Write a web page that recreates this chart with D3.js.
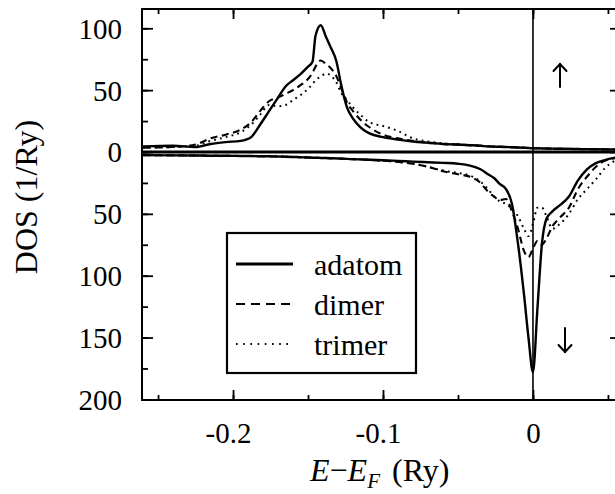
<!DOCTYPE html>
<html>
<head>
<meta charset="utf-8">
<script src="https://cdn.jsdelivr.net/npm/d3@7"></script>
<style>
  html, body { margin: 0; padding: 0; background: #fff; }
  svg { display: block; }
  text { font-family: "Liberation Serif", "Times New Roman", serif; fill: #000; }
</style>
</head>
<body>
<svg id="chart" width="615" height="494"></svg>
<script>
// Energy grid (Ry, relative to the Fermi level)
const energy = [-0.26, -0.24, -0.225, -0.215, -0.205, -0.195, -0.188, -0.182, -0.176, -0.17,
  -0.165, -0.16, -0.155, -0.15, -0.147, -0.145, -0.1415, -0.138, -0.135, -0.131,
  -0.128, -0.124, -0.12, -0.115, -0.109, -0.1, -0.09, -0.08, -0.07, -0.06,
  -0.05, -0.042, -0.035, -0.03, -0.026, -0.022, -0.018, -0.014, -0.01, -0.006,
  -0.003, 0, 0.003, 0.006, 0.009, 0.013, 0.018, 0.024, 0.03, 0.036,
  0.042, 0.048, 0.0547];

// Majority (spin up) DOS, 1/Ry
const adatomUp = [4.5, 5, 4, 6.5, 8, 9, 12, 22, 33, 44,
  53, 58, 63, 69, 73, 94, 102.5, 93, 85, 73,
  55, 36, 27, 20, 15, 12, 10, 8.5, 7.5, 6.5,
  6, 5.5, 5, 4.5, 4.3, 4.2, 4, 3.8, 3.6, 3.4,
  3.2, 3, 3, 2.9, 2.8, 2.7, 2.6, 2.5, 2.4, 2.3,
  2.2, 2.1, 2];
const dimerUp = [3.5, 4, 6, 11, 14, 18, 24, 33, 41, 44,
  47, 50, 54, 59, 64, 69, 74, 71, 68, 61,
  52, 40, 33, 26, 20, 14, 11, 9, 7.5, 6.5,
  6, 5.5, 5, 4.6, 4.4, 4.2, 4, 3.8, 3.6, 3.4,
  3.2, 3, 3, 2.9, 2.8, 2.7, 2.6, 2.5, 2.4, 2.3,
  2.2, 2.1, 2];
const trimerUp = [3.5, 4, 5, 9, 12, 16, 22, 30, 38, 37,
  38, 42, 46, 51, 55, 58, 61, 63.5, 62, 56,
  48, 42, 36, 30, 24, 21, 17, 11, 8.5, 7,
  6, 5.5, 5, 4.6, 4.4, 4.2, 4, 3.8, 3.6, 3.4,
  3.2, 3, 3, 2.9, 2.8, 2.7, 2.6, 2.5, 2.4, 2.3,
  2.2, 2.1, 2];

// Minority (spin down) DOS, 1/Ry, drawn downward
const adatomDown = [2.5, 2.7, 2.8, 3, 3, 3.2, 3.3, 3.4, 3.5, 3.6,
  3.8, 4, 4.2, 4.5, 4.6, 4.7, 4.8, 4.9, 5, 5.2,
  5.4, 5.6, 5.8, 6, 6.3, 6.7, 7.2, 7.8, 8.3, 8.8,
  9.5, 11, 14, 18, 21, 26, 30, 42, 74, 115,
  150, 178, 126, 74, 54, 48, 43, 36, 23, 14,
  9, 6.5, 4.5];
const dimerDown = [2.5, 2.7, 2.8, 3, 3, 3.2, 3.3, 3.4, 3.5, 3.6,
  3.8, 4, 4.2, 4.5, 4.6, 4.7, 4.8, 4.9, 5, 5.2,
  5.4, 5.6, 5.8, 6, 6.4, 7, 8, 9.5, 12, 15.5,
  18, 20, 25, 32, 36, 39, 38, 48, 62, 80,
  85, 78, 72, 75, 70, 60, 53, 45, 30, 20,
  12, 7, 5];
const trimerDown = [2.5, 2.7, 2.8, 3, 3, 3.2, 3.3, 3.4, 3.5, 3.6,
  3.8, 4, 4.2, 4.5, 4.6, 4.7, 4.8, 4.9, 5, 5.2,
  5.4, 5.6, 5.8, 6, 6.4, 7, 8, 9.5, 12, 15,
  17, 19, 24, 30, 36, 40, 42, 46, 52, 62,
  68, 58, 45, 45, 52, 62, 58, 50, 38, 30,
  22, 13, 7];

const seriesNames = ["adatom", "dimer", "trimer"];
const xTickValues = [-0.2, -0.1, 0];
const xTickLabels = ["-0.2", "-0.1", "0"];
const xMinorValues = [-0.25, -0.2, -0.15, -0.1, -0.05, 0, 0.05];
const yTickValues = [100, 50, 0, -50, -100, -150, -200];
const yTickLabels = ["100", "50", "0", "50", "100", "150", "200"];
const yMinorValues = [100, 75, 50, 25, 0, -25, -50, -75, -100, -125, -150, -175, -200];

const styles = {
  adatom: { width: 2.4, dash: null },
  dimer: { width: 2.1, dash: "7,4.5" },
  trimer: { width: 2, dash: "1.8,4.2" }
};

const svg = d3.select("#chart");
const frame = { left: 142, right: 621, top: 9, bottom: 400 };

const x = d3.scaleLinear().domain([-0.2607, 0.0587]).range([frame.left, frame.right]);
const y = d3.scaleLinear().domain([-200.5, 115.6]).range([frame.bottom, frame.top]);

svg.append("defs").append("clipPath").attr("id", "plotArea")
  .append("rect")
  .attr("x", frame.left).attr("y", frame.top)
  .attr("width", frame.right - frame.left).attr("height", frame.bottom - frame.top);

function styleAxis(g) {
  g.select(".domain").remove();
  g.selectAll(".tick line").attr("stroke", "#000").attr("stroke-width", 1.8);
}

// Minor ticks on all four sides
svg.append("g").attr("transform", `translate(${frame.left},0)`)
  .call(d3.axisLeft(y).tickValues(yMinorValues).tickSize(-6).tickFormat(""))
  .call(styleAxis);
svg.append("g").attr("transform", `translate(${frame.right},0)`)
  .call(d3.axisRight(y).tickValues(yMinorValues).tickSize(-6).tickFormat(""))
  .call(styleAxis);
svg.append("g").attr("transform", `translate(0,${frame.bottom})`)
  .call(d3.axisBottom(x).tickValues(xMinorValues).tickSize(-5).tickFormat(""))
  .call(styleAxis);
svg.append("g").attr("transform", `translate(0,${frame.top})`)
  .call(d3.axisTop(x).tickValues(xMinorValues).tickSize(-5).tickFormat(""))
  .call(styleAxis);

// Major ticks with labels (spin-down side labelled by magnitude)
const yAxisLeft = svg.append("g").attr("transform", `translate(${frame.left},0)`)
  .call(d3.axisLeft(y).tickValues(yTickValues).tickSize(-11).tickPadding(20)
    .tickFormat((d, i) => yTickLabels[i]))
  .call(styleAxis);
yAxisLeft.selectAll(".tick text")
  .attr("font-size", 29).attr("font-family", "Liberation Serif, serif")
  .attr("fill", "#000").attr("dy", "0.34em");

svg.append("g").attr("transform", `translate(${frame.right},0)`)
  .call(d3.axisRight(y).tickValues(yTickValues).tickSize(-11).tickFormat(""))
  .call(styleAxis);

const xAxisBottom = svg.append("g").attr("transform", `translate(0,${frame.bottom})`)
  .call(d3.axisBottom(x).tickValues(xTickValues).tickSize(-10)
    .tickFormat((d, i) => xTickLabels[i]))
  .call(styleAxis);
xAxisBottom.selectAll(".tick text")
  .attr("font-size", 29).attr("font-family", "Liberation Serif, serif")
  .attr("fill", "#000")
  .attr("y", 43).attr("dy", 0)
  .attr("dx", d => d < 0 ? -5 : 0);

svg.append("g").attr("transform", `translate(0,${frame.top})`)
  .call(d3.axisTop(x).tickValues(xTickValues).tickSize(-10).tickFormat(""))
  .call(styleAxis);

// Reference lines: zero DOS and Fermi level
svg.append("line")
  .attr("x1", frame.left).attr("x2", frame.right)
  .attr("y1", y(0)).attr("y2", y(0))
  .attr("stroke", "#000").attr("stroke-width", 3);
svg.append("line")
  .attr("x1", x(0)).attr("x2", x(0))
  .attr("y1", frame.top).attr("y2", frame.bottom)
  .attr("stroke", "#000").attr("stroke-width", 1.6);

// DOS curves
const plot = svg.append("g").attr("clip-path", "url(#plotArea)");
const upData = { adatom: adatomUp, dimer: dimerUp, trimer: trimerUp };
const downData = { adatom: adatomDown, dimer: dimerDown, trimer: trimerDown };

const lineUp = d3.line()
  .x((d, i) => x(energy[i]))
  .y(d => y(d))
  .curve(d3.curveMonotoneX);
const lineDown = d3.line()
  .x((d, i) => x(energy[i]))
  .y(d => y(-d))
  .curve(d3.curveMonotoneX);

seriesNames.slice().reverse().forEach(name => {
  const s = styles[name];
  [[upData[name], lineUp], [downData[name], lineDown]].forEach(([vals, gen]) => {
    plot.append("path")
      .attr("d", gen(vals))
      .attr("fill", "none")
      .attr("stroke", "#000")
      .attr("stroke-width", s.width)
      .attr("stroke-linejoin", "round")
      .attr("stroke-dasharray", s.dash);
  });
});

// Frame
svg.append("rect")
  .attr("x", frame.left).attr("y", frame.top)
  .attr("width", frame.right - frame.left).attr("height", frame.bottom - frame.top)
  .attr("fill", "none").attr("stroke", "#000").attr("stroke-width", 2);

// Spin arrows (thin open arrows)
function spinArrow(cx, yTip, yTail) {
  const dir = yTail > yTip ? 1 : -1;
  const g = svg.append("g").attr("stroke", "#000").attr("stroke-width", 2)
    .attr("fill", "none").attr("stroke-linecap", "round");
  g.append("line").attr("x1", cx).attr("x2", cx).attr("y1", yTip).attr("y2", yTail);
  g.append("path")
    .attr("d", `M${cx - 6.5},${yTip + dir * 7} L${cx},${yTip} L${cx + 6.5},${yTip + dir * 7}`)
    .attr("stroke-linejoin", "miter");
}
spinArrow(560, 64, 87);
spinArrow(565, 352, 328);

// Legend
const legend = svg.append("g");
legend.append("rect")
  .attr("x", 227).attr("y", 233).attr("width", 189).attr("height", 140)
  .attr("fill", "#fff").attr("stroke", "#000").attr("stroke-width", 2.2);
seriesNames.forEach((name, i) => {
  const cy = 264 + i * 40;
  legend.append("line")
    .attr("x1", 236).attr("x2", 293).attr("y1", cy).attr("y2", cy)
    .attr("stroke", "#000").attr("stroke-width", name === "adatom" ? 2.8 : 2)
    .attr("stroke-dasharray", name === "dimer" ? "9,6" : (name === "trimer" ? "1.6,5.6" : null));
  legend.append("text")
    .attr("x", 314).attr("y", cy + 11)
    .attr("font-size", 30)
    .text(name);
});

// Axis titles
svg.append("text")
  .attr("transform", "translate(37,197) rotate(-90)")
  .attr("text-anchor", "middle")
  .attr("font-size", 32)
  .text("DOS (1/Ry)");

const xt = svg.append("text").attr("x", 310).attr("y", 481).attr("font-size", 32);
xt.append("tspan").attr("font-style", "italic").text("E");
xt.append("tspan").text("−");
xt.append("tspan").attr("font-style", "italic").text("E");
xt.append("tspan").attr("font-style", "italic").attr("font-size", 21).attr("dy", 7).text("F");
xt.append("tspan").attr("dy", -7).attr("dx", 12).text("(Ry)");
</script>
</body>
</html>
